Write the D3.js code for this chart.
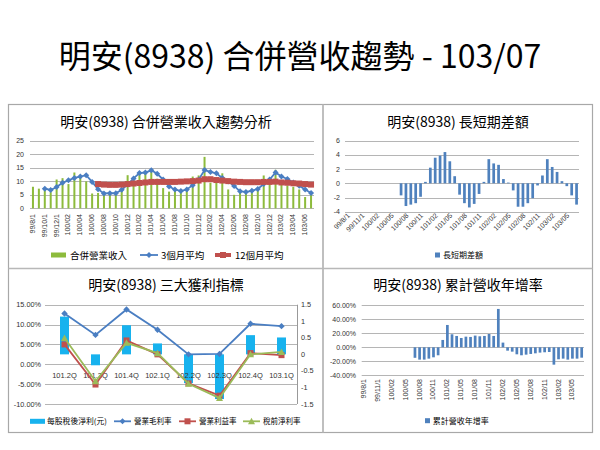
<!DOCTYPE html>
<html><head><meta charset="utf-8">
<script src="https://cdn.jsdelivr.net/npm/d3@7"></script>
<style>body{margin:0;background:#fff}svg{display:block}</style>
</head><body>
<svg id="c" width="600" height="450"></svg>
<script>
// ---------- DATA ----------
const months = ["99/8/1","99/9/1","99/10/1","99/11/1","99/12/1",
 "100/01","100/02","100/03","100/04","100/05","100/06","100/07","100/08","100/09","100/10","100/11","100/12",
 "101/01","101/02","101/03","101/04","101/05","101/06","101/07","101/08","101/09","101/10","101/11","101/12",
 "102/01","102/02","102/03","102/04","102/05","102/06","102/07","102/08","102/09","102/10","102/11","102/12",
 "103/01","103/02","103/03","103/04","103/05","103/06","103/07"];

const revenue = [8.0,7.3,7.2,6.0,10.7,11.2,9.0,13.3,11.8,10.0,5.5,5.7,5.6,5.4,5.8,7.0,12.3,11.5,13.2,13.0,
 14.0,11.0,7.5,6.2,6.5,6.0,7.2,11.8,12.2,19.1,9.5,9.5,13.0,7.0,5.0,5.8,6.2,6.0,7.0,12.2,9.5,14.3,9.0,8.5,8.0,7.0,4.2,5.2];
const avg3 = [null,null,7.3,6.8,7.9,9.5,10.4,11.3,11.8,12.3,9.8,7.1,5.5,5.6,5.6,6.9,8.8,11.1,13.1,13.3,14.1,12.8,
 10.7,8.1,7.0,6.4,7.0,8.6,10.6,14.2,13.5,13.0,11.3,10.0,8.3,6.3,6.1,6.5,7.2,9.0,10.7,13.3,11.8,10.9,9.6,8.4,7.0,5.7];
const avg12 = [null,null,null,null,null,null,null,null,null,null,null,
 9.0,8.8,8.7,8.7,8.8,9.0,9.2,9.4,9.6,9.8,9.8,9.8,9.8,9.8,9.9,10.0,10.1,10.3,10.8,10.8,
 10.5,10.3,10.1,9.9,9.8,9.7,9.7,9.7,9.8,9.8,9.9,9.6,9.5,9.3,9.2,9.0,8.8];
const revTicks = [0,5,10,15,20,25];

const diff = [null,null,null,null,null,null,null,null,null,null,null,
 -1.7,-3.2,-3.0,-2.8,-1.9,0.2,2.2,3.6,3.9,4.4,3.1,1.0,-1.6,-2.8,-3.4,-2.9,-1.5,0.2,3.4,2.8,
 2.6,0.6,0.1,-1.0,-3.3,-3.3,-2.8,-2.1,-0.3,1.1,3.4,2.3,1.6,0.3,-0.4,-1.7,-3.0];
const diffTicks = [-4,-2,0,2,4,6];

const quarters = ["101.2Q","101.3Q","101.4Q","102.1Q","102.2Q","102.3Q","102.4Q","103.1Q"];
const eps = [1.14,-0.33,0.88,0.33,-0.87,-1.35,0.58,0.51];
const grossMargin = [12.8,7.4,13.8,8.7,2.5,2.6,10.2,9.6];
const opMargin = [5.0,-5.1,6.0,2.5,-4.8,-7.9,2.8,2.3];
const preTaxMargin = [6.6,-4.3,5.4,2.8,-4.9,-8.5,2.5,3.1];
const pctTicks = [-10,-5,0,5,10,15];
const epsTicks = [-1.5,-1,-0.5,0,0.5,1,1.5];

const yoy = [null,null,null,null,null,null,null,null,null,null,null,
 -15.0,-17.6,-17.6,-16.2,-14.3,-11.4,10.5,31.9,18.6,16.2,13.3,15.2,14.8,16.7,15.7,16.2,19.0,16.2,54.8,6.7,
 -4.8,-6.2,-10.0,-11.4,-10.5,-9.5,-8.6,-7.6,-7.1,-6.7,-24.8,-17.1,-16.2,-17.6,-16.2,-16.2,-14.8];
const yoyTicks = [-40,-20,0,20,40,60];

// ---------- STYLE ----------
const CJK = "'Noto Sans CJK TC','Noto Sans CJK SC',sans-serif";
const NUM = "'Liberation Sans',Arial,sans-serif";
const GRID = "#B5B5B5", TXT = "#333";
const GREEN = "#8DBB3C", BLUE = "#4A7EC2", RED = "#C0504D", BAR = "#4F81BD", CYAN = "#17B2EE", LGREEN = "#9BBB59";

const svg = d3.select("#c");
svg.append("rect").attr("width",600).attr("height",450).attr("fill","#fff");

const diamond = r => `M0,${-r}L${r},0L0,${r}L${-r},0Z`;
const tri = r => `M0,${-r}L${r},${r*0.85}L${-r},${r*0.85}Z`;

svg.append("text").attr("x",300).attr("y",68).attr("text-anchor","middle")
  .style("font-family",CJK).style("font-size","32px").attr("fill","#000")
  .text("明安(8938) 合併營收趨勢 - 103/07");

// frames
svg.append("rect").attr("x",8.5).attr("y",104.5).attr("width",584).attr("height",328)
  .attr("fill","none").attr("stroke","#A8A8A8").attr("stroke-width",1.2);
svg.append("line").attr("x1",323).attr("x2",323).attr("y1",104.5).attr("y2",432.5).attr("stroke","#B8B8B8").attr("stroke-width",1.8);
svg.append("line").attr("x1",8.5).attr("x2",592.5).attr("y1",268.5).attr("y2",268.5).attr("stroke","#B8B8B8").attr("stroke-width",1.5);

function title(x,y,t){
  svg.append("text").attr("x",x).attr("y",y).attr("text-anchor","middle")
   .style("font-family",CJK).style("font-size","14px").attr("fill","#000").text(t);
}
function yAxis(g, scale, ticks, x0, x1){
  ticks.forEach(t=>{
    g.append("line").attr("x1",x0).attr("x2",x1).attr("y1",Math.round(scale(t))+0.5).attr("y2",Math.round(scale(t))+0.5)
     .attr("stroke",GRID).attr("stroke-width",1);
  });
}
function yLabels(g, scale, ticks, fmt, lx, anchor, fs){
  ticks.forEach(t=>{
    g.append("text").attr("x",lx).attr("y",scale(t)).attr("dy","0.35em").attr("text-anchor",anchor)
     .style("font-family",NUM).style("font-size",fs+"px").attr("fill",TXT).text(fmt(t));
  });
}

// ---------- PANEL 1 ----------
title(166,127,"明安(8938) 合併營業收入趨勢分析");
const g1 = svg.append("g");
const x1 = d3.scaleBand().domain(months).range([30,314]);
const y1 = d3.scaleLinear().domain([0,25]).range([208.3,141]);
const c1 = m => x1(m)+x1.bandwidth()/2;
yAxis(g1,y1,revTicks,30,314);
yLabels(g1,y1,revTicks,d=>d,24,"end",7);
months.forEach((m,i)=>{ if(i%2===0)
  g1.append("text").attr("transform",`translate(${c1(m)+2},214) rotate(-90)`).attr("text-anchor","end")
   .style("font-family",NUM).style("font-size","7px").attr("fill",TXT).text(m); });
g1.selectAll(".b1").data(revenue).enter().append("rect")
  .attr("x",(d,i)=>c1(months[i])-1).attr("width",2)
  .attr("y",d=>y1(d)).attr("height",d=>y1(0)-y1(d)).attr("fill",GREEN);
const l3 = d3.line().defined(d=>d.v!=null).x(d=>c1(d.m)).y(d=>y1(d.v));
const a3 = avg3.map((v,i)=>({m:months[i],v}));
g1.append("path").attr("d",l3(a3)).attr("fill","none").attr("stroke",BLUE).attr("stroke-width",1.8);
g1.selectAll(".d3").data(a3.filter(d=>d.v!=null)).enter().append("path")
  .attr("transform",d=>`translate(${c1(d.m)},${y1(d.v)})`).attr("d",diamond(3)).attr("fill",BLUE);
const a12 = avg12.map((v,i)=>({m:months[i],v}));
g1.append("path").attr("d",l3(a12)).attr("fill","none").attr("stroke",RED).attr("stroke-width",4);
g1.selectAll(".s12").data(a12.filter(d=>d.v!=null)).enter().append("rect")
  .attr("x",d=>c1(d.m)-3).attr("y",d=>y1(d.v)-3).attr("width",6).attr("height",6).attr("fill",RED);
// legend 1
g1.append("rect").attr("x",51).attr("y",252.5).attr("width",15).attr("height",5).attr("fill",GREEN);
g1.append("text").attr("x",70).attr("y",258.5).style("font-family",CJK).style("font-size","9.5px").text("合併營業收入");
g1.append("line").attr("x1",140).attr("x2",158).attr("y1",255).attr("y2",255).attr("stroke",BLUE).attr("stroke-width",1.8);
g1.append("path").attr("transform","translate(149,255)").attr("d",diamond(3)).attr("fill",BLUE);
g1.append("text").attr("x",161).attr("y",258.5).style("font-family",CJK).style("font-size","9.5px").text("3個月平均");
g1.append("line").attr("x1",215).attr("x2",231).attr("y1",255).attr("y2",255).attr("stroke",RED).attr("stroke-width",4);
g1.append("rect").attr("x",220).attr("y",252).attr("width",6).attr("height",6).attr("fill",RED);
g1.append("text").attr("x",235).attr("y",258.5).style("font-family",CJK).style("font-size","9.5px").text("12個月平均");

// ---------- PANEL 2 ----------
title(458,127,"明安(8938) 長短期差額");
const g2 = svg.append("g");
const x2 = d3.scaleBand().domain(months).range([345,579]);
const y2 = d3.scaleLinear().domain([-4,6]).range([211.7,140.7]);
const c2 = m => x2(m)+x2.bandwidth()/2;
yAxis(g2,y2,diffTicks,345,579);
yLabels(g2,y2,diffTicks,d=>d,340,"end",7);
g2.selectAll(".b2").data(diff.map((v,i)=>({m:months[i],v})).filter(d=>d.v!=null)).enter().append("rect")
  .attr("x",d=>c2(d.m)-1.35).attr("width",2.7)
  .attr("y",d=>y2(Math.max(0,d.v))).attr("height",d=>Math.abs(y2(d.v)-y2(0))).attr("fill",BAR);
months.forEach((m,i)=>{ if(i%3===0)
  g2.append("text").attr("transform",`translate(${c2(m)+3},216) rotate(-45)`).attr("text-anchor","end")
   .style("font-family",NUM).style("font-size","7px").attr("fill",TXT).text(m); });
g2.append("rect").attr("x",435).attr("y",252.5).attr("width",5).attr("height",5).attr("fill",BAR);
g2.append("text").attr("x",443).attr("y",258).style("font-family",CJK).style("font-size","8px").text("長短期差額");

// ---------- PANEL 3 ----------
title(166,290,"明安(8938) 三大獲利指標");
const g3 = svg.append("g");
const x3 = d3.scaleBand().domain(quarters).range([49,297]);
const yL = d3.scaleLinear().domain([-10,15]).range([404,304.7]);
const yR = d3.scaleLinear().domain([-1.5,1.5]).range([404,304.7]);
const c3 = q => x3(q)+x3.bandwidth()/2;
yAxis(g3,yL,pctTicks,45,297);
yLabels(g3,yL,pctTicks,d=>d.toFixed(2)+"%",41,"end",7.3);
yLabels(g3,yR,epsTicks,d=>d,301,"start",7.3);
g3.append("line").attr("x1",297.5).attr("x2",297.5).attr("y1",304.7).attr("y2",404).attr("stroke","#999");
g3.selectAll(".b3").data(eps).enter().append("rect")
  .attr("x",(d,i)=>c3(quarters[i])-4.5).attr("width",9)
  .attr("y",d=>yR(Math.max(0,d))).attr("height",d=>Math.abs(yR(d)-yR(0))).attr("fill",CYAN);
quarters.forEach(q=>g3.append("text").attr("x",c3(q)).attr("y",378).attr("text-anchor","middle")
  .style("font-family",NUM).style("font-size","7.5px").attr("fill",TXT).text(q));
const lq = d3.line().x((d,i)=>c3(quarters[i])).y(d=>yL(d));
[[grossMargin,BLUE,"d"],[opMargin,RED,"s"],[preTaxMargin,LGREEN,"t"]].forEach(([arr,col,mk])=>{
  g3.append("path").attr("d",lq(arr)).attr("fill","none").attr("stroke",col).attr("stroke-width",1.8);
  arr.forEach((v,i)=>{
    const cx=c3(quarters[i]), cy=yL(v);
    if(mk==="d") g3.append("path").attr("transform",`translate(${cx},${cy})`).attr("d",diamond(3.2)).attr("fill",col);
    else if(mk==="s") g3.append("rect").attr("x",cx-3).attr("y",cy-3).attr("width",6).attr("height",6).attr("fill",col);
    else g3.append("path").attr("transform",`translate(${cx},${cy})`).attr("d",tri(3.5)).attr("fill",col);
  });
});
// legend 3
const ly3 = 421.3;
g3.append("rect").attr("x",30).attr("y",ly3-2.5).attr("width",15).attr("height",5).attr("fill",CYAN);
g3.append("text").attr("x",47).attr("y",ly3+2.8).style("font-family",CJK).style("font-size","7.8px").text("每股稅後淨利(元)");
g3.append("line").attr("x1",114).attr("x2",131).attr("y1",ly3).attr("y2",ly3).attr("stroke",BLUE).attr("stroke-width",1.8);
g3.append("path").attr("transform",`translate(122.5,${ly3})`).attr("d",diamond(3)).attr("fill",BLUE);
g3.append("text").attr("x",134).attr("y",ly3+2.8).style("font-family",CJK).style("font-size","7.5px").text("營業毛利率");
g3.append("line").attr("x1",179).attr("x2",196).attr("y1",ly3).attr("y2",ly3).attr("stroke",RED).attr("stroke-width",1.8);
g3.append("rect").attr("x",184.5).attr("y",ly3-3).attr("width",6).attr("height",6).attr("fill",RED);
g3.append("text").attr("x",199).attr("y",ly3+2.8).style("font-family",CJK).style("font-size","7.5px").text("營業利益率");
g3.append("line").attr("x1",243).attr("x2",260).attr("y1",ly3).attr("y2",ly3).attr("stroke",LGREEN).attr("stroke-width",1.8);
g3.append("path").attr("transform",`translate(251.5,${ly3})`).attr("d",tri(3.5)).attr("fill",LGREEN);
g3.append("text").attr("x",263).attr("y",ly3+2.8).style("font-family",CJK).style("font-size","7.5px").text("稅前淨利率");

// ---------- PANEL 4 ----------
title(458,290,"明安(8938) 累計營收年增率");
const g4 = svg.append("g");
const x4 = d3.scaleBand().domain(months).range([361.7,584]);
const y4 = d3.scaleLinear().domain([-40,60]).range([375.3,305.3]);
const c4 = m => x4(m)+x4.bandwidth()/2;
yAxis(g4,y4,yoyTicks,361.7,584);
yLabels(g4,y4,yoyTicks,d=>d.toFixed(2)+"%",356,"end",7);
g4.selectAll(".b4").data(yoy.map((v,i)=>({m:months[i],v})).filter(d=>d.v!=null)).enter().append("rect")
  .attr("x",d=>c4(d.m)-1.35).attr("width",2.7)
  .attr("y",d=>y4(Math.max(0,d.v))).attr("height",d=>Math.abs(y4(d.v)-y4(0))).attr("fill",BAR);
months.forEach((m,i)=>{ if(i%3===0)
  g4.append("text").attr("transform",`translate(${c4(m)+2},379) rotate(-90)`).attr("text-anchor","end")
   .style("font-family",NUM).style("font-size","7px").attr("fill",TXT).text(m); });
g4.append("rect").attr("x",425).attr("y",418.2).attr("width",5).attr("height",5).attr("fill",BAR);
g4.append("text").attr("x",432.7).attr("y",423.6).style("font-family",CJK).style("font-size","8px").text("累計營收年增率");
</script></body></html>
